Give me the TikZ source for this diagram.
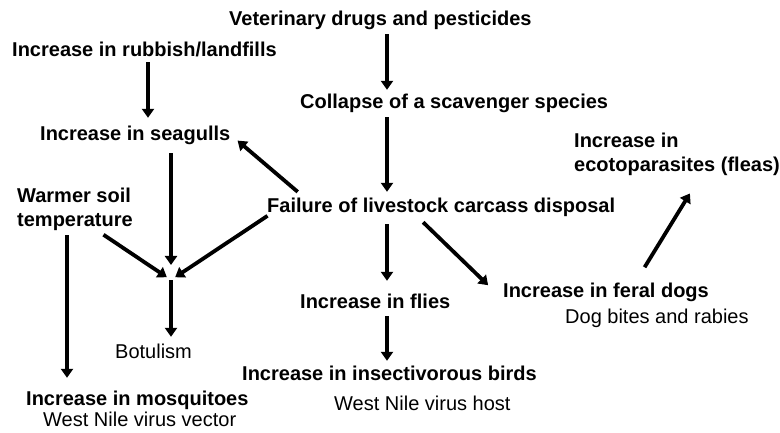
\documentclass[tikz,border=0pt]{standalone}
\usepackage{fontspec}
\setmainfont{Liberation Sans}
\usepackage{tikz}
\usetikzlibrary{arrows.meta, positioning}

\begin{document}
\begin{tikzpicture}[
  x=1pt, y=-1pt,
  cause/.style={font={\bfseries\fontsize{20}{24}\selectfont}, inner sep=0pt, anchor=base west, text height=15pt, text depth=5pt},
  cause2/.style={font={\bfseries\fontsize{20}{24}\selectfont}, inner sep=0pt, anchor=north west, align=left},
  effect/.style={font={\fontsize{20}{24}\selectfont}, inner sep=0pt, anchor=base west, text height=15pt, text depth=5pt},
  arr/.style={-{Triangle[length=9pt, width=12pt]}, line width=3.8pt, shorten >=4pt, shorten <=3pt}
]
  \useasboundingbox (0,0) rectangle (780,433);

  \node[cause] (vet) at (229,26) {Veterinary drugs and pesticides};
  \node[cause] (rubbish) at (12,57) {Increase in rubbish/landfills};
  \node[cause] (collapse) at (300,109) {Collapse of a scavenger species};
  \node[cause] (seagulls) at (40,141) {Increase in seagulls};
  \node[cause2] (fleas) at (574,133) {Increase in\\ecotoparasites (fleas)};
  \node[cause2] (soil) at (17,188) {Warmer soil\\temperature};
  \node[cause] (failure) at (267,213) {Failure of livestock carcass disposal};
  \node[cause] (dogs) at (503,297) {Increase in feral dogs};
  \node[effect] (bites) at (565,323) {Dog bites and rabies};
  \node[cause] (flies) at (300,308) {Increase in flies};
  \node[effect] (botulism) at (115,358) {Botulism};
  \node[cause] (birds) at (242,380) {Increase in insectivorous birds};
  \node[effect] (host) at (334,410) {West Nile virus host};
  \node[cause] (mosq) at (26,405) {Increase in mosquitoes};
  \node[effect] (vector) at (43,426) {West Nile virus vector};

  \coordinate (c1) at (387,0);
  \coordinate (c2) at (148,0);
  \coordinate (c3) at (67,0);
  \coordinate (jn) at (171,280);

  \draw[arr] (vet.south -| c1) -- (collapse.north -| c1);
  \draw[arr, shorten <=0pt, shorten >=8pt] (rubbish.south -| c2) -- (seagulls.north -| c2);
  \draw[arr, shorten >=6pt] (collapse.south -| c1) -- (failure.north -| c1);
  \draw[arr] ([xshift=33pt, yshift=4pt]failure.north west) -- ([xshift=4pt, yshift=-2pt]seagulls.east);
  \draw[arr, shorten <=7pt, shorten >=15pt] (seagulls.south -| jn) -- (jn);
  \draw[arr, shorten >=5pt] ([xshift=-32pt, yshift=-2pt]soil.south east) -- (jn);
  \draw[arr, shorten >=5pt] ([xshift=3pt, yshift=4pt]failure.south west) -- (jn);
  \draw[arr, shorten <=0pt, shorten >=6pt] (jn) -- (botulism.north -| jn);
  \draw[arr, shorten <=4pt, shorten >=12pt] (soil.south -| c3) -- (mosq.north -| c3);
  \draw[arr, shorten <=6pt, shorten >=12pt] (failure.south -| c1) -- (flies.north -| c1);
  \draw[arr] ([xshift=154pt, yshift=-2pt]failure.south west) -- ([xshift=-12pt, yshift=4pt]dogs.west);
  \draw[arr] ([xshift=37pt, yshift=12pt]dogs.north) -- ([xshift=15pt, yshift=-14pt]fleas.south);
  \draw[arr] (flies.south -| c1) -- (birds.north -| c1);
\end{tikzpicture}
\end{document}
